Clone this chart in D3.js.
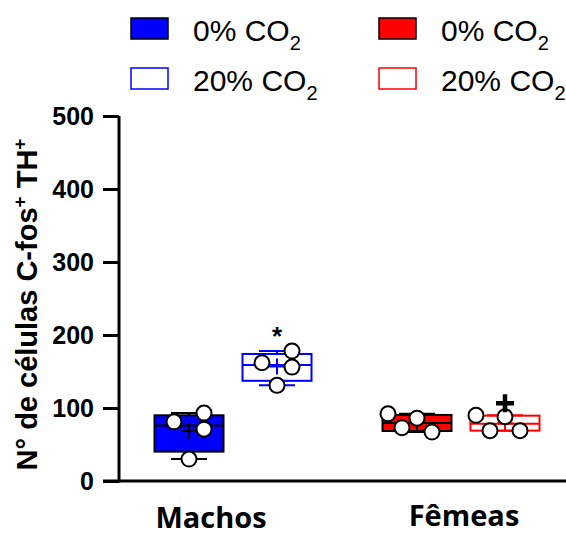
<!DOCTYPE html>
<html>
<head>
<meta charset="utf-8">
<script src="https://cdn.jsdelivr.net/npm/d3@7"></script>
<style>
  body { margin: 0; background: #fff; }
  svg text { font-family: "Liberation Sans", Arial, sans-serif; }
</style>
</head>
<body>
<div id="chart"></div>
<script>
// data
const groups = ["Machos", "Fêmeas"];
const series = ["0% CO2", "20% CO2"];
const yTicks = [0, 100, 200, 300, 400, 500];

const machos0 = [30, 71, 81, 93];
const machos20 = [131, 156, 162, 178];
const femeas0 = [67, 73, 86, 92];
const femeas20 = [69, 69, 88, 90];

const marks = ["", "*", "", "+"];   // significance marks above each box

const colors = { "Machos": "#0000ff", "Fêmeas": "#ff0000" };

const boxes = [
  { group: "Machos", serie: "0% CO2", values: machos0 },
  { group: "Machos", serie: "20% CO2", values: machos20 },
  { group: "Fêmeas", serie: "0% CO2", values: femeas0 },
  { group: "Fêmeas", serie: "20% CO2", values: femeas20 }
];
boxes.forEach((b, i) => b.mark = marks[i]);

const width = 566, height = 537;
const svg = d3.select("#chart").append("svg")
  .attr("width", width).attr("height", height);

const y = d3.scaleLinear().domain([0, 500]).range([481, 116]);
const x0 = d3.scalePoint().domain(groups).range([233, 461]);
const x1 = d3.scalePoint().domain(series).range([-44, 44]);
const boxW = 69, capW = 36, r = 7.5;

// quartiles the GraphPad way: (n+1)p position
function quant(v, p) {
  const s = v.slice().sort((a, b) => a - b);
  const pos = (s.length + 1) * p - 1;
  const lo = Math.max(0, Math.floor(pos)), hi = Math.min(s.length - 1, lo + 1);
  const f = Math.min(1, Math.max(0, pos - lo));
  return s[lo] + (s[hi] - s[lo]) * f;
}

// scatter dots: lone dots stay centred, clustered ones alternate sides
function swarm(vals) {
  const D = 16;
  const order = vals.map((v, i) => i).sort((a, b) => vals[a] - vals[b]);
  const out = new Array(vals.length);
  const placed = [];
  let side = 1;
  order.forEach((i, k) => {
    const py = y(vals[i]);
    const prev = k > 0 ? y(vals[order[k - 1]]) : null;
    const next = k < order.length - 1 ? y(vals[order[k + 1]]) : null;
    const alone = (prev === null || prev - py >= D) && (next === null || py - next >= D);
    if (k > 0 && prev - py >= D) side = 1;
    const cands = alone ? [0, 15 * side, -15 * side] : [15 * side, -15 * side, 0, 29 * side, -29 * side];
    for (const dx of cands) {
      if (placed.every(p => Math.hypot(p.dx - dx, p.py - py) >= D)) {
        placed.push({ dx, py }); out[i] = dx; break;
      }
    }
    if (out[i] === undefined) out[i] = 0;
    if (!alone) side = -Math.sign(out[i] || side);
  });
  return out;
}

// axes
const yAxis = svg.append("g")
  .attr("transform", "translate(119,0)")
  .call(d3.axisLeft(y).tickValues(yTicks).tickSize(16).tickSizeOuter(0).tickPadding(9));
yAxis.select(".domain").attr("stroke", "#000").attr("stroke-width", 3);
yAxis.selectAll(".tick line").attr("stroke", "#000").attr("stroke-width", 3);
yAxis.selectAll(".tick text")
  .attr("font-family", "Liberation Sans, Arial, sans-serif")
  .attr("font-size", 25).attr("font-weight", "bold").attr("fill", "#000");
yAxis.select(".domain").attr("d", `M0,${y(500)}V${y(0) + 1.5}`);

svg.append("line")
  .attr("x1", 103).attr("x2", width)
  .attr("y1", y(0)).attr("y2", y(0))
  .attr("stroke", "#000").attr("stroke-width", 3);

// y label
svg.append("text")
  .attr("transform", `translate(37,${(y(0) + y(500)) / 2 + 6}) rotate(-90)`)
  .attr("text-anchor", "middle")
  .attr("font-size", 29).attr("font-weight", "bold")
  .call(t => {
    t.append("tspan").text("N° de células C-fos");
    t.append("tspan").text("+").attr("font-size", 19).attr("dy", -11);
    t.append("tspan").text(" TH").attr("dy", 11);
    t.append("tspan").text("+").attr("font-size", 19).attr("dy", -11);
  });

// group labels
const groupLabel = { "Machos": { dx: -22, y: 528 }, "Fêmeas": { dx: 3, y: 526 } };
svg.selectAll(".glabel").data(groups).join("text")
  .attr("class", "glabel")
  .attr("x", d => x0(d) + groupLabel[d].dx)
  .attr("y", d => groupLabel[d].y)
  .attr("text-anchor", "middle")
  .attr("font-size", 29).attr("font-weight", "bold")
  .style("font-family", "'Open Sans', sans-serif")
  .text(d => d);

// boxes
const bx = svg.selectAll(".box").data(boxes).join("g")
  .attr("class", "box")
  .attr("transform", d => `translate(${x0(d.group) + x1(d.serie)},0)`);

bx.each(function (d) {
  const g = d3.select(this);
  const filled = d.serie === "0% CO2";
  const col = colors[d.group];
  const line = filled ? "#000" : col;
  const q1 = quant(d.values, 0.25), q3 = quant(d.values, 0.75), med = quant(d.values, 0.5);
  const mn = d3.min(d.values), mx = d3.max(d.values), mean = d3.mean(d.values);

  g.append("line").attr("x1", 0).attr("x2", 0).attr("y1", y(q3)).attr("y2", y(mx))
    .attr("stroke", line).attr("stroke-width", 2);
  g.append("line").attr("x1", 0).attr("x2", 0).attr("y1", y(q1)).attr("y2", y(mn))
    .attr("stroke", line).attr("stroke-width", 2);
  [mn, mx].forEach(v => g.append("line")
    .attr("x1", -capW / 2).attr("x2", capW / 2).attr("y1", y(v)).attr("y2", y(v))
    .attr("stroke", line).attr("stroke-width", 2));

  g.append("rect")
    .attr("x", -boxW / 2).attr("width", boxW)
    .attr("y", y(q3)).attr("height", y(q1) - y(q3))
    .attr("fill", filled ? col : "none")
    .attr("stroke", line).attr("stroke-width", 2);
  g.append("line").attr("x1", -boxW / 2).attr("x2", boxW / 2)
    .attr("y1", y(med)).attr("y2", y(med))
    .attr("stroke", line).attr("stroke-width", 2);

  // mean as a plus
  g.append("path")
    .attr("d", `M-8,${y(mean)}H8M0,${y(mean) - 8}V${y(mean) + 8}`)
    .attr("stroke", line).attr("stroke-width", 2).attr("fill", "none");

  const offs = swarm(d.values);
  g.selectAll("circle").data(d.values).join("circle")
    .attr("cx", (v, i) => offs[i]).attr("cy", v => y(v)).attr("r", r)
    .attr("fill", "#fff").attr("stroke", "#000").attr("stroke-width", 2);

  if (d.mark === "*") {
    g.append("text").attr("x", 0).attr("y", y(mx) - 4)
      .attr("text-anchor", "middle").attr("font-size", 26).attr("font-weight", "bold")
      .attr("dy", "0.7em").attr("transform", "translate(0,-20)")
      .text("*");
  } else if (d.mark === "+") {
    g.append("path")
      .attr("d", `M-9,${y(mx) - 12}H9M0,${y(mx) - 21}V${y(mx) - 3}`)
      .attr("stroke", "#000").attr("stroke-width", 4.5).attr("fill", "none");
  }
});

// legend
const legend = svg.append("g");
const legItems = [];
groups.forEach((gname, gi) => series.forEach((s, si) => legItems.push({ gname, s, gi, si })));
const lg = legend.selectAll("g").data(legItems).join("g")
  .attr("transform", d => `translate(${131 + d.gi * 248},${18 + d.si * 50})`);
lg.append("rect")
  .attr("width", 37).attr("height", 21)
  .attr("fill", d => d.si === 0 ? colors[d.gname] : "#fff")
  .attr("stroke", d => d.si === 0 ? "#000" : colors[d.gname])
  .attr("stroke-width", 1.5);
lg.append("text")
  .attr("x", 62).attr("y", 23)
  .attr("font-size", 30)
  .call(t => {
    t.append("tspan").text(d => d.s.replace("CO2", "CO"));
    t.append("tspan").text("2").attr("font-size", 20).attr("dy", 9);
  });
</script>
</body>
</html>
